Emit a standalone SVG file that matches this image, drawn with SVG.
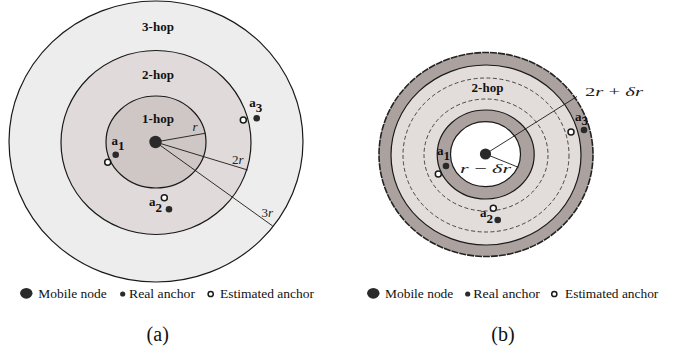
<svg xmlns="http://www.w3.org/2000/svg" width="681" height="351" viewBox="0 0 681 351">
<style>
.ring{stroke:#1a1a1a;stroke-width:1.2}
.dash{fill:none;stroke:#222;stroke-width:0.8;stroke-dasharray:4 2.5}
.hop{font-family:"Liberation Serif","Times New Roman",serif;font-weight:bold;font-size:13px;fill:#111;text-anchor:middle}
.math{font-family:"Liberation Serif","Times New Roman",serif;font-style:italic;font-size:13px;fill:#222}
.up{font-style:normal}
.al{font-family:"Liberation Serif","Times New Roman",serif;font-weight:bold;font-size:13px;fill:#111}
.leg{font-family:"Liberation Serif","Times New Roman",serif;font-size:12.5px;fill:#111}
.cap{font-family:"Liberation Serif","Times New Roman",serif;font-size:20px;fill:#111;text-anchor:middle}
.real{fill:#2a2a2a}
.est{fill:#fff;stroke:#1a1a1a;stroke-width:1.5}
.mob{fill:#2a2a2a}
.conn line{stroke:#1a1a1a;stroke-width:0.9}
</style>

<!-- Figure (a) -->
<g id="fig-a">
  <g id="a-hop3"><ellipse class="ring" cx="156" cy="141.5" rx="147" ry="140.5" fill="#ededed"/></g>
  <g id="a-hop2"><ellipse class="ring" cx="156" cy="142.5" rx="95" ry="92" fill="#e0dbda"/></g>
  <g id="a-hop1"><ellipse class="ring" cx="156" cy="142" rx="50" ry="46" fill="#cfc7c5"/></g>
  <text class="hop" x="158" y="31">3-hop</text>
  <text class="hop" x="158" y="79">2-hop</text>
  <text class="hop" x="158" y="123">1-hop</text>
  <g class="conn" id="a-connectors">
    <line x1="155.5" y1="142" x2="205" y2="133.3"/>
    <line x1="155.5" y1="142" x2="247.7" y2="170"/>
    <line x1="155.5" y1="142" x2="272.7" y2="226"/>
  </g>
  <text class="math" x="192.5" y="131">r</text>
  <text class="math" x="232" y="163.5"><tspan class="up">2</tspan>r</text>
  <text class="math" x="261.5" y="217"><tspan class="up">3</tspan>r</text>
  <g id="a-mobile"><circle class="mob" cx="155.5" cy="142" r="6.2"/></g>
  <g id="a-anchor1">
    <circle class="real" cx="115.7" cy="154.7" r="3.3"/>
    <circle class="est" cx="107.7" cy="162.3" r="3"/>
    <text class="al" x="111.5" y="145">a<tspan dy="4.5">1</tspan></text>
  </g>
  <g id="a-anchor2">
    <circle class="real" cx="169" cy="209.3" r="3.3"/>
    <circle class="est" cx="164.3" cy="197.7" r="3"/>
    <text class="al" x="149" y="206">a<tspan dy="5.5">2</tspan></text>
  </g>
  <g id="a-anchor3">
    <circle class="real" cx="256.7" cy="118.3" r="3.3"/>
    <circle class="est" cx="243.3" cy="120" r="3"/>
    <text class="al" x="249.3" y="107">a<tspan dy="5">3</tspan></text>
  </g>
  <g id="a-legend">
    <ellipse class="mob" cx="26.3" cy="293.3" rx="6.2" ry="5.4"/>
    <text class="leg" x="38.3" y="297.5" textLength="68.4" lengthAdjust="spacingAndGlyphs">Mobile node</text>
    <circle class="real" cx="122.7" cy="294" r="2.6"/>
    <text class="leg" x="129" y="297.5" textLength="66" lengthAdjust="spacingAndGlyphs">Real anchor</text>
    <circle class="est" cx="210.7" cy="294" r="2.6"/>
    <text class="leg" x="220" y="297.5" textLength="94" lengthAdjust="spacingAndGlyphs">Estimated anchor</text>
  </g>
  <text class="cap" x="157.7" y="341">(a)</text>
</g>

<!-- Figure (b) -->
<g id="fig-b">
  <g id="b-outer-band"><ellipse cx="486" cy="154.5" rx="107" ry="102" fill="#aba29f" stroke="#222" stroke-width="1.6" stroke-dasharray="7 1"/></g>
  <g id="b-hop2"><ellipse class="ring" cx="486" cy="155" rx="95" ry="90" fill="#e2dcda"/></g>
  <ellipse class="dash" cx="486" cy="155" rx="83" ry="77"/>
  <ellipse class="dash" cx="486" cy="155" rx="62" ry="56"/>
  <g id="b-inner-band"><ellipse class="ring" cx="485.7" cy="154.5" rx="48.5" ry="44.5" fill="#aba29f"/></g>
  <g id="b-hole"><ellipse class="ring" cx="485.5" cy="154.2" rx="35" ry="32.5" fill="#fff"/></g>
  <text class="hop" x="487.5" y="92">2-hop</text>
  <g class="conn" id="b-connectors">
    <line x1="485.5" y1="154" x2="577" y2="96.5"/>
    <line x1="485.5" y1="154" x2="518.3" y2="167.3"/>
  </g>
  <text class="math" x="585" y="96" textLength="58" lengthAdjust="spacingAndGlyphs"><tspan class="up">2</tspan>r <tspan class="up">+</tspan> δr</text>
  <text class="math" x="460" y="173" textLength="51" lengthAdjust="spacingAndGlyphs">r <tspan class="up">−</tspan> δr</text>
  <g id="b-mobile"><circle class="mob" cx="485.5" cy="154" r="5.6"/></g>
  <g id="b-anchor1">
    <circle class="real" cx="446" cy="166" r="3.3"/>
    <circle class="est" cx="438.3" cy="174" r="3"/>
    <text class="al" x="437" y="155">a<tspan dy="4.5">1</tspan></text>
  </g>
  <g id="b-anchor2">
    <circle class="real" cx="497.7" cy="220" r="3.3"/>
    <circle class="est" cx="493.3" cy="208.3" r="3"/>
    <text class="al" x="480" y="217">a<tspan dy="5.5">2</tspan></text>
  </g>
  <g id="b-anchor3">
    <circle class="real" cx="584" cy="130" r="3.3"/>
    <circle class="est" cx="571" cy="132" r="3"/>
    <text class="al" x="575" y="121">a<tspan dy="4">3</tspan></text>
  </g>
  <g id="b-legend">
    <ellipse class="mob" cx="373.3" cy="293.3" rx="6.2" ry="5.4"/>
    <text class="leg" x="385" y="297.5" textLength="68.3" lengthAdjust="spacingAndGlyphs">Mobile node</text>
    <circle class="real" cx="467.7" cy="294" r="2.6"/>
    <text class="leg" x="473.3" y="297.5" textLength="66.7" lengthAdjust="spacingAndGlyphs">Real anchor</text>
    <circle class="est" cx="554.3" cy="294" r="2.6"/>
    <text class="leg" x="565" y="297.5" textLength="93.3" lengthAdjust="spacingAndGlyphs">Estimated anchor</text>
  </g>
  <text class="cap" x="503" y="341">(b)</text>
</g>
</svg>
